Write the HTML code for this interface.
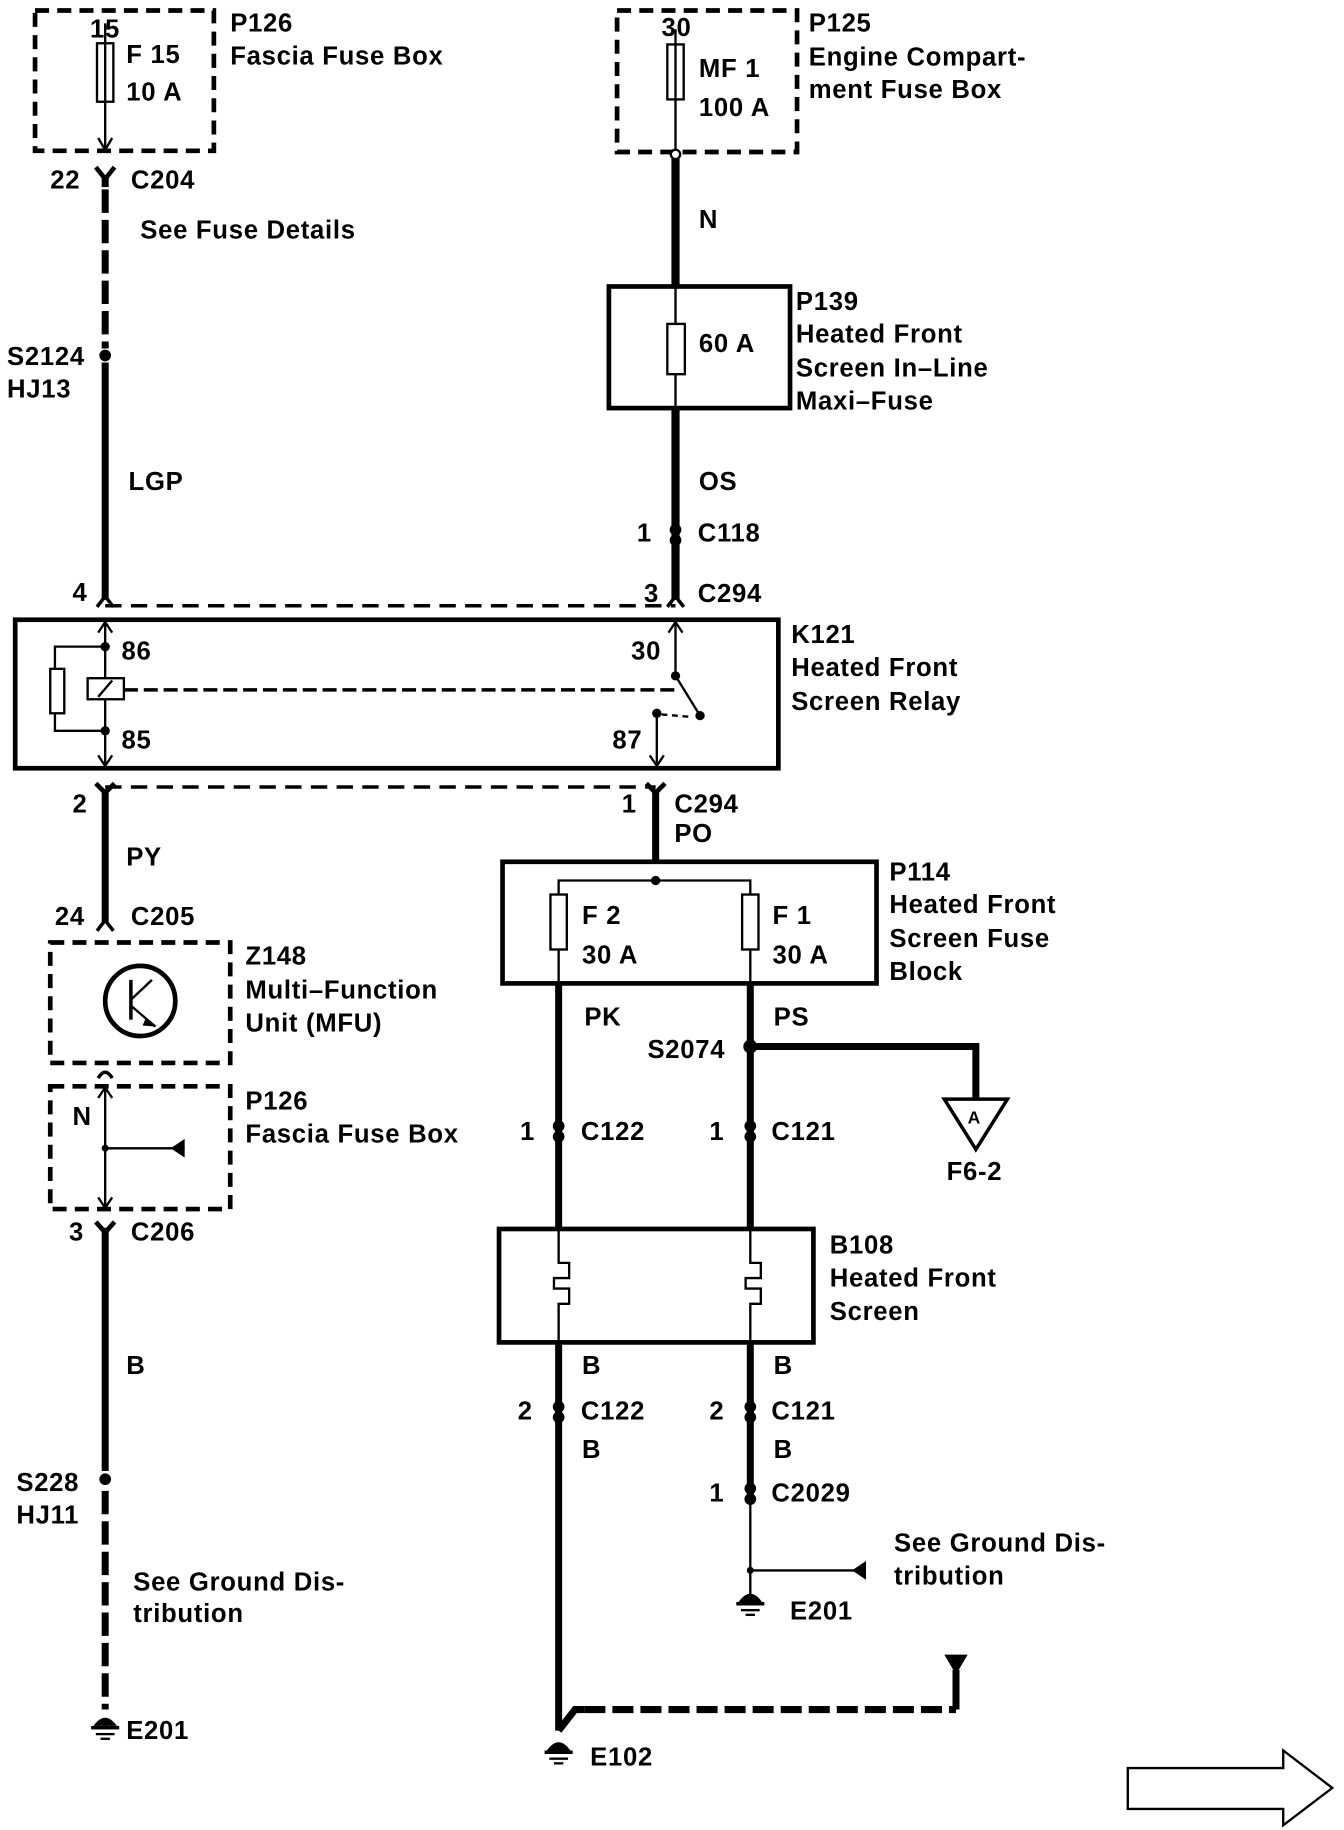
<!DOCTYPE html>
<html><head><meta charset="utf-8">
<style>
html,body{margin:0;padding:0;background:#fff;}
svg{display:block;}
text{font-family:"Liberation Sans",Arial,sans-serif;font-weight:bold;font-size:22px;letter-spacing:0.6px;fill:#000;}
</style></head><body>
<svg width="1344" height="1830" viewBox="0 0 1150 1565" preserveAspectRatio="none" xmlns="http://www.w3.org/2000/svg">
<g fill="none" stroke="#000">
<rect x="30" y="9" width="153" height="120" stroke-width="4" stroke-dasharray="12,7"/>
<rect x="83" y="37" width="14" height="50" stroke-width="2"/>
<line x1="90" y1="20" x2="90" y2="128" stroke-width="2"/>
<polyline points="84,118 90,128 96,118" stroke-width="2"/>
<polyline points="82,143 90,153 98,143" stroke-width="4"/>
<line x1="90" y1="150" x2="90" y2="160" stroke-width="6"/>
<line x1="90" y1="162" x2="90" y2="298" stroke-width="6" stroke-dasharray="20,6"/>
<line x1="90" y1="310" x2="90" y2="513" stroke-width="6"/>
<polyline points="83,519 90,510 97,519" stroke-width="3"/>
<rect x="528" y="9" width="154" height="121" stroke-width="4" stroke-dasharray="12,7"/>
<rect x="571" y="38" width="14" height="47" stroke-width="2"/>
<line x1="578" y1="25" x2="578" y2="128" stroke-width="2"/>
<circle cx="578" cy="132" r="4" stroke-width="2" fill="#fff"/>
<line x1="578" y1="136" x2="578" y2="245" stroke-width="7"/>
<rect x="521" y="245" width="155" height="104" stroke-width="4"/>
<rect x="571" y="277" width="15" height="43" stroke-width="2"/>
<line x1="578" y1="245" x2="578" y2="277" stroke-width="2"/>
<line x1="578" y1="320" x2="578" y2="349" stroke-width="2"/>
<line x1="578" y1="349" x2="578" y2="513" stroke-width="7"/>
<polyline points="571,519 578,510 585,519" stroke-width="3"/>
<line x1="90" y1="518" x2="578" y2="518" stroke-width="3" stroke-dasharray="14,8"/>
<rect x="13" y="530" width="653" height="127" stroke-width="4"/>
<line x1="90" y1="532" x2="90" y2="655" stroke-width="2"/>
<polyline points="84,541 90,532 96,541" stroke-width="2"/>
<polyline points="84,646 90,655 96,646" stroke-width="2"/>
<polyline points="90,553 47,553 47,625 90,625" stroke-width="2"/>
<rect x="43" y="572" width="12" height="38" stroke-width="2" fill="#fff"/>
<rect x="75" y="580" width="31" height="18" stroke-width="2" fill="#fff"/>
<line x1="84" y1="596" x2="96" y2="582" stroke-width="2"/>
<line x1="106" y1="590" x2="578" y2="590" stroke-width="3" stroke-dasharray="12,5"/>
<line x1="578" y1="532" x2="578" y2="578" stroke-width="2"/>
<polyline points="572,541 578,532 584,541" stroke-width="2"/>
<line x1="578" y1="578" x2="599" y2="612" stroke-width="2"/>
<line x1="562" y1="610" x2="562" y2="655" stroke-width="2"/>
<polyline points="556,646 562,655 568,646" stroke-width="2"/>
<line x1="566" y1="611" x2="590" y2="613" stroke-width="2" stroke-dasharray="5,4"/>
<line x1="90" y1="673" x2="561" y2="673" stroke-width="3" stroke-dasharray="14,8"/>
<polyline points="82,670 90,678 98,670" stroke-width="4"/>
<polyline points="553,670 561,678 569,670" stroke-width="4"/>
<line x1="90" y1="676" x2="90" y2="788" stroke-width="6"/>
<polyline points="83,796 90,787 97,796" stroke-width="3"/>
<line x1="561" y1="676" x2="561" y2="737" stroke-width="6"/>
<rect x="43" y="806" width="154" height="103" stroke-width="4" stroke-dasharray="12,7"/>
<circle cx="120" cy="856" r="30" stroke-width="4"/>
<line x1="112" y1="838" x2="112" y2="872" stroke-width="3"/>
<line x1="112" y1="855" x2="130" y2="838" stroke-width="2"/>
<line x1="112" y1="860" x2="133" y2="878" stroke-width="2"/>
<path d="M84,922 Q90,912 96,922" stroke-width="3"/>
<rect x="43" y="929" width="154" height="105" stroke-width="4" stroke-dasharray="12,7"/>
<line x1="90" y1="930" x2="90" y2="1033" stroke-width="2"/>
<polyline points="84,939 90,930 96,939" stroke-width="2"/>
<polyline points="84,1024 90,1033 96,1024" stroke-width="2"/>
<line x1="90" y1="982" x2="158" y2="982" stroke-width="2"/>
<polyline points="82,1045 90,1054 98,1045" stroke-width="4"/>
<line x1="90" y1="1050" x2="90" y2="1258" stroke-width="6"/>
<line x1="90" y1="1275" x2="90" y2="1462" stroke-width="6" stroke-dasharray="20,6"/>
<rect x="430" y="737" width="320" height="104" stroke-width="4"/>
<polyline points="478,812 478,753 642,753 642,812" stroke-width="2"/>
<rect x="471" y="765" width="14" height="47" stroke-width="2" fill="#fff"/>
<rect x="635" y="765" width="14" height="47" stroke-width="2" fill="#fff"/>
<line x1="478" y1="812" x2="478" y2="841" stroke-width="2"/>
<line x1="642" y1="812" x2="642" y2="841" stroke-width="2"/>
<line x1="478" y1="841" x2="478" y2="1050" stroke-width="6"/>
<line x1="642" y1="841" x2="642" y2="1050" stroke-width="6"/>
<polyline points="642,895 835,895 835,940" stroke-width="6"/>
<polygon points="808,940 862,940 835,983" stroke-width="3" fill="#fff"/>
<rect x="427" y="1051" width="269" height="97" stroke-width="4"/>
<polyline points="478,1051 478,1080 487,1080 487,1093 474,1093 474,1102 487,1102 487,1115 478,1115 478,1148" stroke-width="2"/>
<polyline points="642,1051 642,1080 651,1080 651,1093 638,1093 638,1102 651,1102 651,1115 642,1115 642,1148" stroke-width="2"/>
<line x1="478" y1="1148" x2="478" y2="1480" stroke-width="6"/>
<line x1="642" y1="1148" x2="642" y2="1280" stroke-width="6"/>
<line x1="642" y1="1280" x2="642" y2="1370" stroke-width="2"/>
<line x1="642" y1="1343" x2="735" y2="1343" stroke-width="2"/>
<polyline points="478,1480 492,1462 500,1462" stroke-width="6"/>
<line x1="500" y1="1462" x2="818" y2="1462" stroke-width="6" stroke-dasharray="18,6"/>
<line x1="818" y1="1462" x2="818" y2="1428" stroke-width="6"/>
<polygon points="965,1512 1098,1512 1098,1497 1140,1529 1098,1561 1098,1547 965,1547" stroke-width="2"/>
</g>
<g fill="#000">
<circle cx="90" cy="304" r="5"/>
<circle cx="90" cy="1265" r="5"/>
<circle cx="90" cy="553" r="4"/><circle cx="90" cy="625" r="4"/>
<circle cx="578" cy="578" r="4"/><circle cx="599" cy="612" r="4"/><circle cx="562" cy="610" r="4"/>
<circle cx="561" cy="753" r="4"/>
<circle cx="642" cy="895" r="6"/>
<circle cx="90" cy="982" r="3"/><circle cx="642" cy="1343" r="3"/>
<polygon points="158,974 158,990 146,982"/>
<polygon points="741,1335 741,1351 729,1343"/>
<polygon points="808,1415 828,1415 818,1432"/>
<polygon points="125,870 133,878 122,877"/>
<circle cx="578" cy="453" r="5"/><circle cx="578" cy="462" r="5"/>
<circle cx="478" cy="963" r="5"/><circle cx="478" cy="972" r="5"/>
<circle cx="642" cy="963" r="5"/><circle cx="642" cy="972" r="5"/>
<circle cx="478" cy="1203" r="5"/><circle cx="478" cy="1212" r="5"/>
<circle cx="642" cy="1203" r="5"/><circle cx="642" cy="1212" r="5"/>
<circle cx="642" cy="1273" r="5"/><circle cx="642" cy="1282" r="5"/>
<path d="M80,1476 Q90,1462 100,1476 Z"/><rect x="78" y="1476" width="24" height="3"/><rect x="82" y="1482" width="16" height="2"/><rect x="86" y="1486" width="8" height="2"/>
<path d="M632,1370 Q642,1356 652,1370 Z"/><rect x="630" y="1370" width="24" height="3"/><rect x="634" y="1376" width="16" height="2"/><rect x="638" y="1380" width="8" height="2"/>
<path d="M468,1497 Q478,1483 488,1497 Z"/><rect x="466" y="1497" width="24" height="3"/><rect x="470" y="1503" width="16" height="2"/><rect x="474" y="1507" width="8" height="2"/>
</g>
<g>
<text x="77" y="32">15</text>
<text x="108" y="54">F 15</text>
<text x="108" y="86">10 A</text>
<text x="197" y="27">P126</text>
<text x="197" y="55">Fascia Fuse Box</text>
<text x="43" y="161">22</text><text x="112" y="161">C204</text>
<text x="120" y="204">See Fuse Details</text>
<text x="6" y="312">S2124</text><text x="6" y="340">HJ13</text>
<text x="110" y="419">LGP</text>
<text x="62" y="514">4</text>
<text x="566" y="31">30</text>
<text x="598" y="66">MF 1</text>
<text x="598" y="99">100 A</text>
<text x="692" y="27">P125</text>
<text x="692" y="56">Engine Compart-</text>
<text x="692" y="84">ment Fuse Box</text>
<text x="598" y="195">N</text>
<text x="598" y="301">60 A</text>
<text x="681" y="265">P139</text>
<text x="681" y="293">Heated Front</text>
<text x="681" y="322">Screen In–Line</text>
<text x="681" y="350">Maxi–Fuse</text>
<text x="598" y="419">OS</text>
<text x="545" y="463">1</text><text x="597" y="463">C118</text>
<text x="551" y="515">3</text><text x="597" y="515">C294</text>
<text x="104" y="564">86</text><text x="104" y="640">85</text>
<text x="540" y="564">30</text><text x="524" y="640">87</text>
<text x="677" y="550">K121</text>
<text x="677" y="578">Heated Front</text>
<text x="677" y="607">Screen Relay</text>
<text x="62" y="695">2</text>
<text x="532" y="695">1</text><text x="577" y="695">C294</text>
<text x="577" y="720">PO</text>
<text x="108" y="740">PY</text>
<text x="47" y="791">24</text><text x="112" y="791">C205</text>
<text x="210" y="825">Z148</text>
<text x="210" y="854">Multi–Function</text>
<text x="210" y="882">Unit (MFU)</text>
<text x="62" y="962">N</text>
<text x="210" y="949">P126</text>
<text x="210" y="977">Fascia Fuse Box</text>
<text x="59" y="1061">3</text><text x="112" y="1061">C206</text>
<text x="108" y="1175">B</text>
<text x="14" y="1275">S228</text><text x="14" y="1303">HJ11</text>
<text x="114" y="1360">See Ground Dis-</text>
<text x="114" y="1387">tribution</text>
<text x="108" y="1487">E201</text>
<text x="498" y="790">F 2</text><text x="498" y="824">30 A</text>
<text x="661" y="790">F 1</text><text x="661" y="824">30 A</text>
<text x="761" y="753">P114</text>
<text x="761" y="781">Heated Front</text>
<text x="761" y="810">Screen Fuse</text>
<text x="761" y="838">Block</text>
<text x="500" y="877">PK</text><text x="662" y="877">PS</text>
<text x="554" y="905">S2074</text>
<text x="828" y="961" style="font-size:15px;letter-spacing:0">A</text>
<text x="810" y="1009">F6-2</text>
<text x="445" y="975">1</text><text x="497" y="975">C122</text>
<text x="607" y="975">1</text><text x="660" y="975">C121</text>
<text x="710" y="1072">B108</text>
<text x="710" y="1100">Heated Front</text>
<text x="710" y="1129">Screen</text>
<text x="498" y="1175">B</text><text x="662" y="1175">B</text>
<text x="443" y="1214">2</text><text x="497" y="1214">C122</text>
<text x="607" y="1214">2</text><text x="660" y="1214">C121</text>
<text x="498" y="1247">B</text><text x="662" y="1247">B</text>
<text x="607" y="1284">1</text><text x="660" y="1284">C2029</text>
<text x="765" y="1327">See Ground Dis-</text>
<text x="765" y="1355">tribution</text>
<text x="676" y="1385">E201</text>
<text x="505" y="1510">E102</text>
</g>
</svg>
</body></html>
